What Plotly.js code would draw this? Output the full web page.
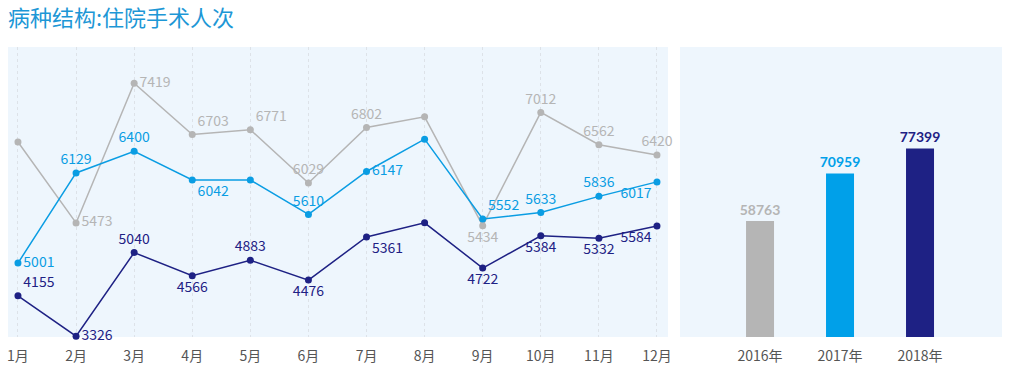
<!DOCTYPE html>
<html><head><meta charset="utf-8">
<script src="https://cdn.plot.ly/plotly-3.0.1.min.js"></script>
<style>html,body{margin:0;padding:0;background:#fff}#c{width:1010px;height:379px}</style>
</head><body><div id="c"></div>
<script>
const months = ['1月','2月','3月','4月','5月','6月','7月','8月','9月','10月','11月','12月'];
const grayVals = [6600, 5473, 7419, 6703, 6771, 6029, 6802, 6950, 5434, 7012, 6562, 6420];
const grayShow = [false, true, true, true, true, true, true, false, true, true, true, true];
const blueVals = [5001, 6129, 6400, 6042, 6040, 5610, 6147, 6552, 5552, 5633, 5836, 6017];
const blueShow = [true, true, true, true, false, true, true, false, true, true, true, true];
const navyVals = [4155, 3326, 5040, 4566, 4883, 4476, 5361, 5650, 4722, 5384, 5332, 5584];
const navyShow = [true, true, true, true, true, true, true, false, true, true, true, true];
const years = ['2016年', '2017年', '2018年'];
const yearTotals = [58763, 70959, 77399];
const chartTitle = '病种结构:住院手术人次';

const GRAY = '#b5b5b5', BLUE = '#0a9de3', NAVY = '#1e2184';
const FONT = '"Noto Sans CJK SC", "Noto Sans", sans-serif';

const grayPos = ['top center','middle right','middle right','top right','top right','top center','top center','top center','bottom center','top center','top center','top center'];
const bluePos = ['middle right','top center','top center','bottom right','top center','top center','middle right','top center','top right','top center','top center','bottom left'];
const navyPos = ['top right','middle right','top center','bottom center','top center','bottom center','bottom right','top center','bottom center','bottom center','bottom center','bottom left'];

function lineTrace(vals, show, pos, color, yax) {
  return {
    type: 'scatter', mode: 'lines+markers+text', x: months, y: vals,
    xaxis: 'x', yaxis: yax,
    text: vals.map((v, i) => show[i] ? String(v) : ''),
    textposition: pos,
    textfont: {family: FONT, size: 14, color: color},
    line: {color: color, width: 1.5},
    marker: {color: color, size: 7},
    cliponaxis: false, hoverinfo: 'none'
  };
}

const traces = [
  lineTrace(grayVals, grayShow, grayPos, GRAY, 'y'),
  lineTrace(blueVals, blueShow, bluePos, BLUE, 'y2'),
  lineTrace(navyVals, navyShow, navyPos, NAVY, 'y3'),
  {
    type: 'bar', x: years, y: yearTotals, xaxis: 'x2', yaxis: 'y4',
    width: 0.35, marker: {color: [GRAY, '#00a0e9', NAVY]},
    text: yearTotals.map(String), textposition: 'outside', constraintext: 'none',
    textfont: {family: 'Lato, sans-serif', size: 14, color: [GRAY, '#00a0e9', NAVY], weight: 'bold'},
    cliponaxis: false, hoverinfo: 'none'
  }
];

const yDom = [0.1108, 0.876];
const tickCommon = {showline: false, zeroline: false, ticks: 'outside', ticklen: 6, tickcolor: 'rgba(0,0,0,0)',
                    fixedrange: true, tickfont: {family: FONT, size: 14, color: '#555555'}};
const layout = {
  width: 1010, height: 379,
  margin: {l: 0, r: 0, t: 0, b: 0},
  paper_bgcolor: '#ffffff', plot_bgcolor: '#eef6fd',
  showlegend: false,
  font: {family: FONT, color: '#555555'},
  annotations: [{text: chartTitle, xref: 'paper', yref: 'paper', x: 0.006, y: 0.958,
                 xanchor: 'left', yanchor: 'middle', showarrow: false,
                 font: {family: FONT, size: 22, color: '#1d97d6'}}],
  xaxis: Object.assign({domain: [0.0079, 0.6614], type: 'category', range: [-0.172, 11.19],
          showgrid: true, gridcolor: '#dde2e8', griddash: 'dot', gridwidth: 1, anchor: 'y'}, tickCommon),
  yaxis: {domain: yDom, range: [3884, 7923], visible: false, fixedrange: true},
  yaxis2: {domain: yDom, range: [4076, 7705], overlaying: 'y', visible: false, fixedrange: true},
  yaxis3: {domain: yDom, range: [3310, 9254], overlaying: 'y', visible: false, fixedrange: true},
  xaxis2: Object.assign({domain: [0.6733, 0.9921], type: 'category', range: [-1, 3.025], anchor: 'y4',
           showgrid: false}, tickCommon),
  yaxis4: {domain: yDom, range: [28900, 103500], anchor: 'x2', visible: false, fixedrange: true}
};

Plotly.newPlot('c', traces, layout, {staticPlot: true, displayModeBar: false});
</script>
</body></html>
